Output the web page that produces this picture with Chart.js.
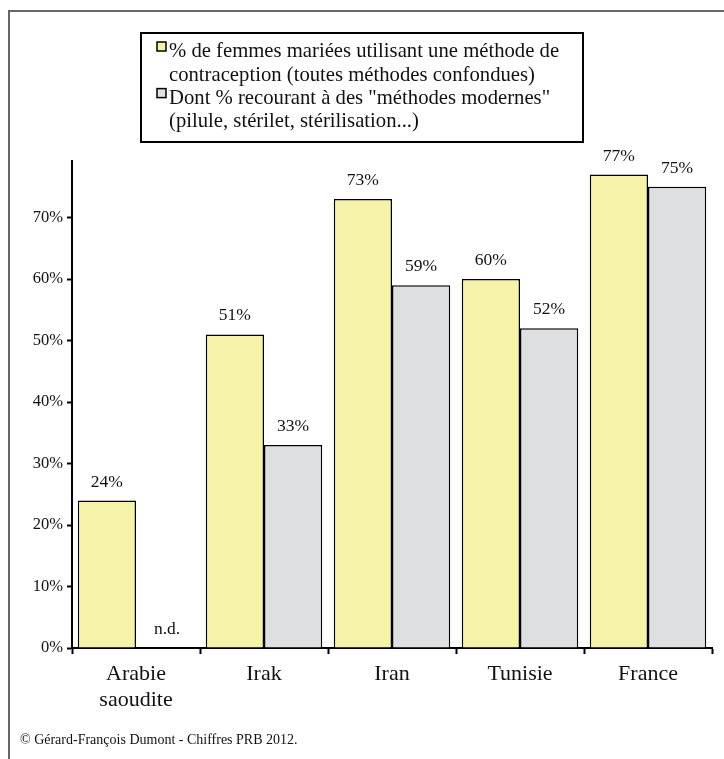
<!DOCTYPE html>
<html>
<head>
<meta charset="utf-8">
<script src="https://cdn.jsdelivr.net/npm/chart.js@4.4.1/dist/chart.umd.min.js"></script>
<style>
  html, body { margin: 0; padding: 0; background: #fff; }
  #wrap { position: relative; width: 724px; height: 759px; }
  canvas { display: block; }
</style>
</head>
<body>
<div id="wrap"><canvas id="c" width="724" height="759"></canvas></div>
<script>
// ---- Data ----
const categories = [["Arabie", "saoudite"], "Irak", "Iran", "Tunisie", "France"];
const totalUse = [24, 51, 73, 60, 77];
const modernUse = [null, 33, 59, 52, 75];
const legendTotal = ["% de femmes mariées utilisant une méthode de", "contraception (toutes méthodes confondues)"];
const legendModern = ["Dont % recourant à des \"méthodes modernes\"", "(pilule, stérilet, stérilisation...)"];
const yTicks = [0, 10, 20, 30, 40, 50, 60, 70];
const missingLabel = "n.d.";
const sourceText = "© Gérard-François Dumont - Chiffres PRB 2012.";

const SERIF = '"Liberation Serif", "Times New Roman", serif';
const yellow = "#F5F3A8";
const gray = "#DFE0E2";

const framePlugin = {
  id: "frame",
  beforeDraw(chart) {
    const ctx = chart.ctx;
    ctx.save();
    ctx.fillStyle = "#fff";
    ctx.fillRect(0, 0, chart.width, chart.height);
    ctx.strokeStyle = "#666";
    ctx.lineWidth = 2;
    ctx.strokeRect(9, 11, 800, 800);
    ctx.restore();
  },
  afterDraw(chart) {
    const ctx = chart.ctx;
    ctx.save();
    // legend box
    ctx.strokeStyle = "#000";
    ctx.lineWidth = 2;
    ctx.strokeRect(141, 33, 442, 109);
    const entries = [
      { lines: legendTotal, color: yellow },
      { lines: legendModern, color: gray }
    ];
    ctx.font = "20.7px " + SERIF;
    ctx.fillStyle = "#111";
    ctx.textBaseline = "middle";
    ctx.textAlign = "left";
    let y = 52;
    const lh = 23.3;
    entries.forEach(e => {
      ctx.fillStyle = e.color;
      ctx.fillRect(157, y - 10, 9, 9);
      ctx.strokeStyle = "#000";
      ctx.lineWidth = 1.5;
      ctx.strokeRect(157, y - 10, 9, 9);
      ctx.fillStyle = "#111";
      e.lines.forEach(l => {
        ctx.fillText(l, 169, y);
        y += lh;
      });
    });
    // source
    ctx.font = "14px " + SERIF;
    ctx.fillText(sourceText, 20, 740);
    ctx.restore();
  }
};

const valueLabels = {
  id: "valueLabels",
  afterDatasetsDraw(chart) {
    const ctx = chart.ctx;
    const ys = chart.scales.y;
    ctx.save();
    ctx.font = "17.5px " + SERIF;
    ctx.fillStyle = "#111";
    ctx.textAlign = "center";
    ctx.textBaseline = "middle";
    chart.data.datasets.forEach((ds, di) => {
      const meta = chart.getDatasetMeta(di);
      meta.data.forEach((bar, i) => {
        const v = ds.data[i];
        if (v === null || v === undefined) {
          ctx.fillText(missingLabel, bar.x + 2, ys.getPixelForValue(0) - 19);
        } else {
          ctx.fillText(v + "%", bar.x, ys.getPixelForValue(v) - 18.5);
        }
      });
    });
    ctx.restore();
  }
};

new Chart(document.getElementById("c"), {
  type: "bar",
  data: {
    labels: categories,
    datasets: [
      { label: legendTotal.join(" "), data: totalUse, backgroundColor: yellow, borderColor: "#000", borderWidth: 1.5, categoryPercentage: 0.91, barPercentage: 1 },
      { label: legendModern.join(" "), data: modernUse, backgroundColor: gray, borderColor: "#000", borderWidth: 1.5, categoryPercentage: 0.91, barPercentage: 1 }
    ]
  },
  options: {
    responsive: false,
    animation: false,
    layout: { padding: { left: 0, right: 12, top: 161, bottom: 0 } },
    plugins: { legend: { display: false }, tooltip: { enabled: false } },
    scales: {
      x: {
        offset: true,
        grid: { offset: true, drawOnChartArea: false, drawTicks: true, tickLength: 6, tickColor: "#000", tickWidth: 2 },
        border: { display: true, color: "#000", width: 2 },
        ticks: { color: "#111", font: { family: SERIF, size: 22, lineHeight: 1.2 }, padding: 7, maxRotation: 0, autoSkip: false },
        afterFit(s) { s.height = 111; }
      },
      y: {
        min: 0,
        max: 79.2,
        afterBuildTicks(s) { s.ticks = yTicks.map(v => ({ value: v })); },
        grid: { drawOnChartArea: false, drawTicks: true, tickLength: 5, tickColor: "#000", tickWidth: 2 },
        border: { display: true, color: "#000", width: 2 },
        ticks: { color: "#111", font: { family: SERIF, size: 16.5 }, padding: 4, callback: v => v + "%" },
        afterFit(s) { s.width = 72; }
      }
    }
  },
  plugins: [framePlugin, valueLabels]
});
</script>
</body>
</html>
